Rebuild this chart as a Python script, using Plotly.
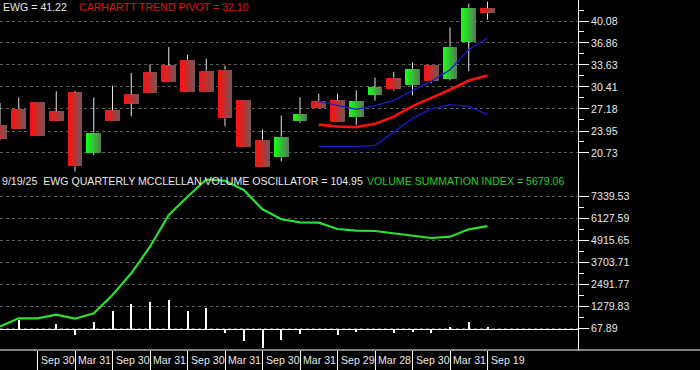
import plotly.graph_objects as go

# ---------------- data ----------------
quarters = ["2019Q1", "2019Q2", "2019Q3", "2019Q4", "2020Q1", "2020Q2", "2020Q3", "2020Q4",
            "2021Q1", "2021Q2", "2021Q3", "2021Q4", "2022Q1", "2022Q2", "2022Q3", "2022Q4",
            "2023Q1", "2023Q2", "2023Q3", "2023Q4", "2024Q1", "2024Q2", "2024Q3", "2024Q4",
            "2025Q1", "2025Q2", "2025Q3"]
opens = [24.88, 27.23, 28.26, 26.84, 29.63, 20.73, 26.99, 29.33, 32.56, 33.58, 34.42, 32.80,
         32.95, 28.55, 22.68, 20.09, 25.37, 28.31, 28.45, 25.95, 29.28, 31.77, 30.74, 33.68,
         31.62, 37.05, 41.95]
highs = [28.06, 28.89, 28.26, 29.77, 29.80, 28.89, 30.60, 32.46, 33.68, 36.27, 35.15, 34.56,
         33.53, 28.55, 24.15, 26.20, 28.89, 29.43, 29.42, 29.91, 31.77, 32.65, 34.02, 33.68,
         39.15, 42.62, 42.92]
lows = [22.60, 24.30, 23.27, 25.37, 18.00, 20.39, 25.47, 26.11, 29.53, 31.09, 29.63, 29.63,
        24.64, 21.56, 18.63, 19.51, 25.13, 27.38, 25.22, 24.83, 28.40, 29.86, 29.18, 30.99,
        31.38, 32.70, 40.28]
closes = [22.78, 24.30, 23.27, 25.37, 18.77, 23.71, 25.47, 27.96, 29.53, 31.09, 29.63, 29.63,
          25.81, 21.56, 18.63, 23.12, 26.50, 27.38, 25.22, 28.40, 30.40, 30.06, 33.09, 31.23,
          36.32, 42.04, 41.22]
trend_pivot = [None] * 17 + [24.88, 24.60, 24.52, 25.00, 26.05, 27.60, 28.80, 30.00, 31.35, 32.10]
upper_band = [None] * 17 + [28.30, 27.71, 27.13, 27.66, 28.45, 29.91, 31.23, 32.94, 35.88, 37.59]
lower_band = [None] * 17 + [21.70, 21.70, 21.70, 21.85, 23.80, 25.80, 27.18, 27.81, 27.57, 26.35]
summation = [150, 602, 602, 800, 580, 877, 1886, 3081, 4546, 6293, 7301, 8250, 8180, 7670,
             6607, 6056, 5891, 5869, 5522, 5428, 5411, 5284, 5191, 5026, 5097, 5505, 5679.06]
oscillator = [0, 500, 0, 275, -330, 385, 1010, 1377, 1487, 1598, 1010, 1157, -202, -643,
              -1028, -606, -257, 0, -330, -147, 0, -202, -147, -202, 110, 385, 104.95]
date_tick_pos = [2, 4, 6, 8, 10, 12, 14, 16, 18, 20, 22, 24, 26]
date_tick_labels = ["Sep 30", "Mar 31", "Sep 30", "Mar 31", "Sep 30", "Mar 31", "Sep 30",
                    "Mar 31", "Sep 29", "Mar 28", "Sep 30", "Mar 31", "Sep 19"]
price_ticks = [20.73, 23.95, 27.18, 30.41, 33.63, 36.86, 40.08]
price_extra_tick = [17.50]
sum_ticks = [67.89, 1279.83, 2491.77, 3703.71, 4915.65, 6127.59, 7339.53]

# ---------------- geometry / style ----------------
W, H = 700, 370
ML, MR, MT, MB = 0, 122, 0, 20
PW, PH = W - ML - MR, H - MT - MB
PX_PER_BAR = 18.75
FONT = "Liberation Sans, Arial, sans-serif"
FS = 10.6

x = list(range(len(quarters)))

fig = go.Figure()

# wicks (split so they don't cross the bodies)
wx, wy = [], []
for i in x:
    top = max(opens[i], closes[i])
    bot = min(opens[i], closes[i])
    if highs[i] > top:
        wx += [i, i, None]
        wy += [top, highs[i], None]
    if lows[i] < bot:
        wx += [i, i, None]
        wy += [bot, lows[i], None]
fig.add_trace(go.Scatter(x=wx, y=wy, mode="lines", line=dict(color="#e6e6e6", width=1),
                         hoverinfo="skip", showlegend=False))

# candle bodies with a left->right gradient
def lerp(c1, c2, t):
    return "rgb(%d,%d,%d)" % tuple(round(a + (b - a) * t) for a, b in zip(c1, c2))

RED_L, RED_R = (255, 16, 16), (122, 82, 82)
GRN_L, GRN_R = (24, 250, 24), (84, 126, 84)
body_w = 14.7 / PX_PER_BAR
N = 10
bases = [min(o, c) for o, c in zip(opens, closes)]
heights = [abs(c - o) for o, c in zip(opens, closes)]
for j in range(N):
    t = j / (N - 1)
    cols = [lerp(GRN_L, GRN_R, t) if closes[i] >= opens[i] else lerp(RED_L, RED_R, t) for i in x]
    off = -body_w / 2 + j * body_w / N
    fig.add_trace(go.Bar(x=x, y=heights, base=bases, width=body_w - j * body_w / N,
                         offset=off, marker=dict(color=cols, line=dict(width=0)),
                         hoverinfo="skip", showlegend=False))

# trend pivot and bands
fig.add_trace(go.Scatter(x=x, y=lower_band, mode="lines", line=dict(color="#1a1ad0", width=1.3),
                         hoverinfo="skip", showlegend=False))
fig.add_trace(go.Scatter(x=x, y=upper_band, mode="lines", line=dict(color="#1a1ad0", width=1.3),
                         hoverinfo="skip", showlegend=False))
fig.add_trace(go.Scatter(x=x, y=trend_pivot, mode="lines", line=dict(color="#ff1010", width=2.6),
                         hoverinfo="skip", showlegend=False))

# oscillator histogram and summation index (lower panel, y2)
fig.add_trace(go.Bar(x=x, y=oscillator, width=2.0 / PX_PER_BAR, yaxis="y2",
                     marker=dict(color="white", line=dict(width=0)),
                     hoverinfo="skip", showlegend=False))
fig.add_trace(go.Scatter(x=x, y=summation, mode="lines", yaxis="y2",
                         line=dict(color="#2ee02e", width=2.2),
                         hoverinfo="skip", showlegend=False))

# axis ranges from pixel positions
p_scale = 22 / 3.2258          # px per price unit
p_top = 40.08 + 21.0 / p_scale
p_bot = 40.08 - (PH - 21.0) / p_scale
s_scale = 22 / 1211.94         # px per summation unit
s_top = 7339.53 + 196.0 / s_scale
s_bot = 7339.53 - (PH - 196.0) / s_scale

def mids(v):
    return [(a + b) / 2 for a, b in zip(v[:-1], v[1:])]

axis_common = dict(side="right", ticks="outside", ticklen=10, tickcolor="white", tickwidth=1,
                   showline=True, linecolor="white", linewidth=1,
                   tickfont=dict(color="#e8e8e8", size=FS, family=FONT),
                   gridcolor="#5c5c5c", griddash="3px,3px", gridwidth=1)

fig.update_layout(
    width=W, height=H,
    margin=dict(l=ML, r=MR, t=MT, b=MB, pad=0),
    paper_bgcolor="black", plot_bgcolor="black",
    barmode="overlay", bargap=0, showlegend=False,
    xaxis=dict(range=[0, PW / PX_PER_BAR], showgrid=False, zeroline=False, showline=False,
               tickmode="array", tickvals=date_tick_pos, ticks="outside", ticklen=20,
               tickcolor="white", tickwidth=1, showticklabels=False),
    yaxis=dict(range=[p_bot, p_top], tickmode="array", tickvals=price_ticks,
               ticktext=["%.2f" % v for v in price_ticks], showgrid=True, zeroline=False,
               minor=dict(tickmode="array", tickvals=mids(price_ticks + [40.08 + 3.2258]),
                          ticks="outside", ticklen=5, tickcolor="white", showgrid=False),
               **axis_common),
    yaxis2=dict(range=[s_bot, s_top], overlaying="y", tickmode="array", tickvals=sum_ticks,
                ticktext=["%.2f" % v for v in sum_ticks], showgrid=True,
                zeroline=True, zerolinecolor="white", zerolinewidth=1,
                minor=dict(tickmode="array", tickvals=mids(sum_ticks), ticks="outside",
                           ticklen=5, tickcolor="white", showgrid=False),
                **axis_common),
    yaxis3=dict(range=[p_bot, p_top], overlaying="y", side="right", tickmode="array",
                tickvals=price_extra_tick, ticktext=[""], ticks="outside", ticklen=10,
                tickcolor="white", showgrid=False, zeroline=False, showline=False),
)

# bottom line of the date strip (full width)
fig.add_shape(type="line", xref="paper", yref="paper", x0=0, x1=W / PW, y0=0, y1=0,
              line=dict(color="white", width=1))

def ann(text, xpx, ypx, color):
    fig.add_annotation(text=text, xref="paper", yref="paper", x=xpx / PW, y=1 - ypx / PH,
                       xanchor="left", yanchor="middle", showarrow=False,
                       font=dict(color=color, size=FS, family=FONT))

ann("EWG = %.2f" % closes[-1], 1, 7, "#e4e4e4")
ann("CARHARTT TREND PIVOT = %.2f" % trend_pivot[-1], 77, 7, "#e01414")
ann("9/19/25\u00a0\u00a0EWG QUARTERLY MCCLELLAN VOLUME OSCILLATOR = %.2f" % oscillator[-1],
    0, 181, "#e8e8e8")
ann("VOLUME SUMMATION INDEX = %.2f" % summation[-1], 365, 181, "#22d022")

for pos, lab in zip(date_tick_pos, date_tick_labels):
    fig.add_annotation(text=lab, xref="x", yref="paper", x=pos, y=-10 / PH,
                       xanchor="left", yanchor="middle", xshift=1, showarrow=False,
                       font=dict(color="#e8e8e8", size=FS, family=FONT))

fig.write_html("out.html", config={"displayModeBar": False},
               post_script="document.body.style.margin='0';document.body.style.background='black';")
